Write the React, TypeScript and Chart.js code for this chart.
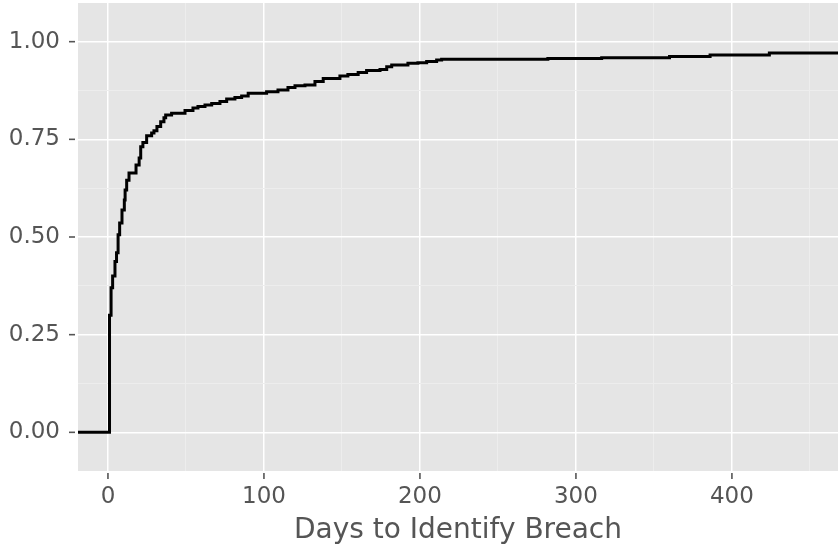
import React, { useEffect, useRef } from "react";
import { Chart, registerables } from "chart.js";

Chart.register(...registerables);

// ECDF step positions (days) and cumulative proportions
const DAYS = [1, 2, 3, 4.5, 5.5, 6.5, 7.5, 9, 10.5, 11, 12, 13.5, 18, 20, 21, 22.4, 24.8, 28, 29.5, 31.4, 33.8, 35.9, 37, 40.8, 49.4, 54.5, 57.7, 62.2, 66.5, 71.8, 76.1, 81.4, 85.7, 89.9, 101.7, 109, 115.4, 119.9, 126.3, 132.7, 138, 148.7, 153.8, 160.4, 165.8, 174.4, 178.7, 181.9, 192.3, 198.7, 204.3, 210.7, 213.9, 282, 316.5, 360, 386, 424];
const ECDF = [0.30, 0.37, 0.40, 0.437, 0.46, 0.506, 0.536, 0.569, 0.595, 0.62, 0.645, 0.664, 0.684, 0.702, 0.731, 0.742, 0.759, 0.766, 0.772, 0.783, 0.795, 0.805, 0.812, 0.817, 0.824, 0.83, 0.834, 0.838, 0.842, 0.847, 0.853, 0.857, 0.861, 0.868, 0.872, 0.876, 0.883, 0.887, 0.889, 0.898, 0.906, 0.912, 0.916, 0.921, 0.926, 0.929, 0.936, 0.94, 0.945, 0.946, 0.949, 0.953, 0.955, 0.957, 0.959, 0.962, 0.966, 0.971];

const X_TICKS = [0, 100, 200, 300, 400];
const X_MINOR = [50, 150, 250, 350, 450];
const Y_TICKS = [0, 0.25, 0.5, 0.75, 1.0];
const Y_MINOR = [0.125, 0.375, 0.625, 0.875];

const X_MIN = -19.2;
const X_MAX = 468;
const Y_MIN = -0.099;
const Y_MAX = 1.099;

const X_TITLE = "Days to Identify Breach";

const TEXT = "#555555";
const FONT = "'DejaVu Sans', sans-serif";

const panelPlugin = {
  id: "panelBg",
  beforeDraw(chart: any) {
    const { ctx, chartArea } = chart;
    ctx.save();
    ctx.fillStyle = "#E5E5E5";
    ctx.fillRect(chartArea.left, chartArea.top, chartArea.right - chartArea.left, chartArea.bottom - chartArea.top);
    ctx.restore();
  },
};

const tickMarkPlugin = {
  id: "tickMarks",
  afterDraw(chart: any) {
    const { ctx, chartArea } = chart;
    const xs = chart.scales.x;
    const ys = chart.scales.y;
    ctx.save();
    ctx.strokeStyle = TEXT;
    ctx.lineWidth = 1.6;
    X_TICKS.forEach((v) => {
      const px = xs.getPixelForValue(v);
      ctx.beginPath();
      ctx.moveTo(px, chartArea.bottom + 2);
      ctx.lineTo(px, chartArea.bottom + 8);
      ctx.stroke();
    });
    Y_TICKS.forEach((v) => {
      const py = ys.getPixelForValue(v);
      ctx.beginPath();
      ctx.moveTo(chartArea.left - 3, py);
      ctx.lineTo(chartArea.left - 9, py);
      ctx.stroke();
    });
    ctx.restore();
  },
};

export default function App() {
  const ref = useRef<HTMLCanvasElement | null>(null);

  useEffect(() => {
    if (!ref.current) return;
    const pts = [{ x: X_MIN - 5, y: 0 }, ...DAYS.map((d, i) => ({ x: d, y: ECDF[i] }))];
    pts.push({ x: X_MAX + 5, y: ECDF[ECDF.length - 1] });

    const xAll = [...X_TICKS, ...X_MINOR].sort((a, b) => a - b);
    const yAll = [...Y_TICKS, ...Y_MINOR].sort((a, b) => a - b);

    const chart = new Chart(ref.current, {
      type: "line",
      data: {
        datasets: [
          {
            data: pts,
            stepped: "before",
            borderColor: "#000000",
            borderWidth: 3,
            pointRadius: 0,
            fill: false,
            tension: 0,
          },
        ],
      },
      options: {
        animation: false,
        responsive: false,
        maintainAspectRatio: false,
        layout: { padding: { top: 3, right: 0, left: 0, bottom: 0 } },
        plugins: { legend: { display: false }, tooltip: { enabled: false } },
        scales: {
          x: {
            type: "linear",
            min: X_MIN,
            max: X_MAX,
            afterBuildTicks: (scale: any) => {
              scale.ticks = xAll.map((v) => ({ value: v }));
            },
            afterFit: (scale: any) => {
              scale.height = 77;
              scale.paddingLeft = 0;
              scale.paddingRight = 0;
            },
            border: { display: false },
            grid: {
              drawTicks: false,
              color: (c: any) => (c.tick && X_TICKS.includes(c.tick.value) ? "#FFFFFF" : "#EDEDED"),
              lineWidth: (c: any) => (c.tick && X_TICKS.includes(c.tick.value) ? 1.5 : 1),
            },
            ticks: {
              autoSkip: false,
              maxRotation: 0,
              padding: 12,
              color: TEXT,
              font: { family: FONT, size: 23 },
              callback: (v: any) => (X_TICKS.includes(Number(v)) ? String(v) : ""),
            },
            title: {
              display: true,
              text: X_TITLE,
              color: TEXT,
              font: { family: FONT, size: 28 },
              padding: { top: 0, bottom: 0 },
            },
          },
          y: {
            type: "linear",
            min: Y_MIN,
            max: Y_MAX,
            afterBuildTicks: (scale: any) => {
              scale.ticks = yAll.map((v) => ({ value: v }));
            },
            afterFit: (scale: any) => {
              scale.width = 78;
              scale.paddingTop = 0;
              scale.paddingBottom = 0;
            },
            border: { display: false },
            grid: {
              drawTicks: false,
              color: (c: any) => (c.tick && Y_TICKS.includes(c.tick.value) ? "#FFFFFF" : "#EDEDED"),
              lineWidth: (c: any) => (c.tick && Y_TICKS.includes(c.tick.value) ? 1.5 : 1),
            },
            ticks: {
              autoSkip: false,
              padding: 18,
              color: TEXT,
              font: { family: FONT, size: 23 },
              callback: (v: any) => (Y_TICKS.includes(Number(v)) ? Number(v).toFixed(2) : ""),
            },
          },
        },
      },
      plugins: [panelPlugin, tickMarkPlugin],
    } as any);

    return () => chart.destroy();
  }, []);

  return (
    <div style={{ position: "fixed", left: 0, top: 0, width: 838, height: 548, background: "#FFFFFF" }}>
      <canvas ref={ref} width={838} height={548} style={{ display: "block" }} />
    </div>
  );
}
